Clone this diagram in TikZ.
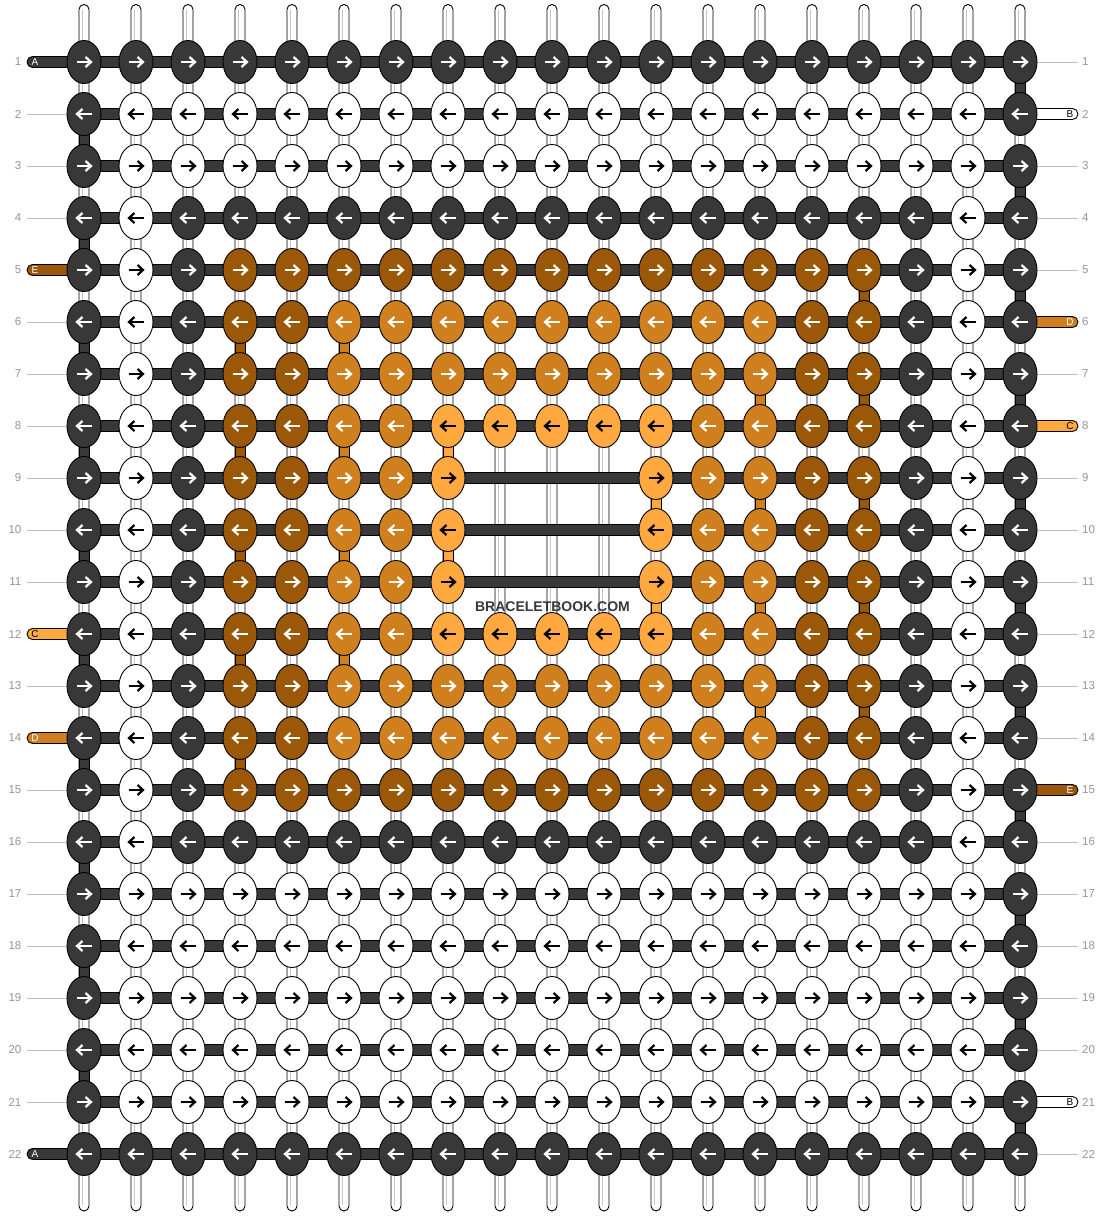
\documentclass[tikz,border=0pt]{standalone}
\usepackage{fontspec}
\setmainfont{Liberation Sans}
\usetikzlibrary{shapes.geometric}
\definecolor{cK}{HTML}{383838}
\definecolor{cE}{HTML}{9A5808}
\definecolor{cD}{HTML}{D07F1E}
\definecolor{cC}{HTML}{FFA940}
\definecolor{cNum}{HTML}{969696}
\definecolor{cGuide}{HTML}{C0C0C0}
\definecolor{cStr}{HTML}{C4C4C4}
\tikzset{
  x=1pt, y=-1pt,
  knot/.style={ellipse, draw=black, line width=0.9pt, minimum width=34pt, minimum height=43pt, inner sep=0pt, outer sep=0pt},
  knot0/.style={knot, fill=cK},
  knot1/.style={knot, fill=white},
  knot2/.style={knot, fill=cK},
  knot3/.style={knot, fill=cE},
  knot4/.style={knot, fill=cD},
  knot5/.style={knot, fill=cC},
  strand/.style={draw=black, line width=0.9pt, fill=#1},
  capsule/.style={strand=#1, rounded corners=5.5pt},
  inner/.style={draw=cStr, line width=0.9pt},
  arrowline/.style={line width=2.2pt, line join=miter, line cap=butt},
  rnum/.style={text=cNum, font=\fontsize{11.5}{12}\selectfont, inner sep=0pt},
  letter/.style={font=\fontsize{10}{11}\selectfont, inner sep=0pt},
  guide/.style={draw=cGuide, line width=0.8pt},
  pics/arrR/.style={code={\draw[arrowline] (-7.5,0) -- (6.5,0); \draw[arrowline] (1.5,-5) -- (7,0) -- (1.5,5);}},
  pics/arrL/.style={code={\draw[arrowline] (7.5,0) -- (-6.5,0); \draw[arrowline] (-1.5,-5) -- (-7,0) -- (-1.5,5);}},
}
\begin{document}
\begin{tikzpicture}
\useasboundingbox (0,0) rectangle (1104,1216);
\fill[white] (0,0) rectangle (1104,1216);
% grid coordinates
\foreach \r in {1,...,22}{
  \pgfmathsetmacro\yy{62+52*(\r-1)}
  \coordinate (gl-\r) at (27,\yy);
  \coordinate (gr-\r) at (1078,\yy);
  \node[rnum, anchor=east] (nl-\r) at (21.5,\yy) {\r};
  \node[rnum, anchor=west] (nr-\r) at (1082,\yy) {\r};
  \foreach \c in {1,...,19}{
    \coordinate (p-\r-\c) at ({84+52*(\c-1)},\yy);
  }
}
\foreach \c in {1,...,19}{
  \coordinate (t-\c) at ({84+52*(\c-1)},4.5);
  \coordinate (b-\c) at ({84+52*(\c-1)},1211);
  \coordinate (ti-\c) at ({84+52*(\c-1)-1.2},10);
  \coordinate (bi-\c) at ({84+52*(\c-1)-1.2},1205);
}
% guide lines
\foreach \r in {2,3,4,6,7,8,9,10,11,13,15,16,17,18,19,20,21}{
  \draw[guide] (gl-\r) -- (p-\r-1);
}
\foreach \r in {1,3,4,5,7,9,10,11,12,13,14,16,17,18,19,20,22}{
  \draw[guide] (p-\r-19) -- (gr-\r);
}
% vertical base strings
\foreach \c in {1,...,19}{
  \draw[strand=white, rounded corners=5pt] ([xshift=-5pt]t-\c) rectangle ([xshift=5pt]b-\c);
  \draw[inner] (ti-\c) -- (bi-\c);
}
% coloured vertical segments
\foreach \c/\r/\cl in {1/2/cK,1/4/cK,1/6/cK,1/8/cK,1/10/cK,1/12/cK,1/14/cK,1/16/cK,1/18/cK,1/20/cK,
  19/1/cK,19/3/cK,19/5/cK,19/7/cK,19/9/cK,19/11/cK,19/13/cK,19/15/cK,19/17/cK,19/19/cK,19/21/cK,
  4/6/cE,4/8/cE,4/10/cE,4/12/cE,4/14/cE,
  6/6/cD,6/8/cD,6/10/cD,6/12/cD,
  8/8/cC,8/10/cC,
  12/9/cC,12/11/cC,
  14/7/cD,14/9/cD,14/11/cD,14/13/cD,
  16/5/cE,16/7/cE,16/9/cE,16/11/cE,16/13/cE}{
  \pgfmathtruncatemacro\rn{\r+1}
  \draw[strand=\cl] ([xshift=-5pt]p-\r-\c) rectangle ([xshift=5pt]p-\rn-\c);
}
% horizontal bars
\foreach \r in {1,...,22}{
  \draw[strand=cK] ([yshift=-5.5pt]p-\r-1) rectangle ([yshift=5.5pt]p-\r-19);
}
% side strings with letters
\foreach \r/\cl/\tc/\lt in {1/cK/white/A,5/cE/white/E,12/cC/black/C,14/cD/white/D,22/cK/white/A}{
  \draw[capsule=\cl] ([yshift=-5.5pt]gl-\r) rectangle ([yshift=5.5pt]p-\r-1);
  \node[letter, text=\tc] (ll-\r) at ([xshift=8pt]gl-\r) {\lt};
}
\foreach \r/\cl/\tc/\lt in {2/white/black/B,6/cD/white/D,8/cC/black/C,15/cE/white/E,21/white/black/B}{
  \draw[capsule=\cl] ([yshift=-5.5pt]p-\r-19) rectangle ([yshift=5.5pt]gr-\r);
  \node[letter, text=\tc] (lr-\r) at ([xshift=-8pt]gr-\r) {\lt};
}
% knots
\foreach \r/\lr in {1/0,2/1,3/1,4/2,5/3,6/4,7/4,8/5,9/6,10/6,11/6,12/5,13/4,14/4,15/3,16/2,17/1,18/1,19/1,20/1,21/1,22/0}{
  \foreach \c/\lc in {1/0,2/1,3/2,4/3,5/3,6/4,7/4,8/5,9/6,10/6,11/6,12/5,13/4,14/4,15/3,16/3,17/2,18/1,19/0}{
    \pgfmathtruncatemacro\lv{min(\lr,\lc)}
    \ifnum\lv<6
      \node[knot\lv] (k-\r-\c) at (p-\r-\c) {};
      \edef\ac{\ifcase\lv white\or black\or white\or white\or white\or black\fi}
      \ifodd\r
        \pic[color=\ac] at (p-\r-\c) {arrR};
      \else
        \pic[color=\ac] at (p-\r-\c) {arrL};
      \fi
    \fi
  }
}
\node[font=\bfseries\fontsize{14}{14}\selectfont, text=cK, inner sep=0pt] (wm) at (552.5,607) {BRACELETBOOK.COM};
\end{tikzpicture}
\end{document}
